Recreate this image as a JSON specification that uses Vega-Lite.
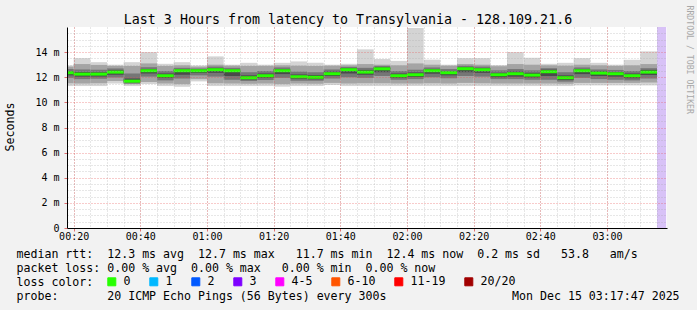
{
  "$schema": "https://vega.github.io/schema/vega-lite/v6.json",
  "width": 600,
  "height": 201,
  "autosize": {"type": "none"},
  "padding": {"left": 67, "top": 27, "right": 30, "bottom": 82},
  "background": "#f2f2f2",
  "view": {"fill": "white", "stroke": null},
  "title": {
    "text": "Last 3 Hours from latency to Transylvania - 128.109.21.6",
    "font": "DejaVu Sans Mono",
    "fontSize": 13.3,
    "fontWeight": "normal",
    "color": "#000000",
    "anchor": "middle",
    "frame": "group",
    "dx": -19,
    "offset": -32,
    "baseline": "alphabetic"
  },
  "datasets": {
    "steps": [
      {"t": "2025-12-15T00:15:00", "t2": "2025-12-15T00:20:00", "med": 12.36, "mx": 12.94, "mn": 11.30, "l2": 11.52, "u2": 12.85, "l1": 11.95, "u1": 12.66, "l0": 12.15, "u0": 12.50, "loss": "0"},
      {"t": "2025-12-15T00:20:00", "t2": "2025-12-15T00:25:00", "med": 12.25, "mx": 13.52, "mn": 11.30, "l2": 11.50, "u2": 13.05, "l1": 11.85, "u1": 12.62, "l0": 12.05, "u0": 12.42, "loss": "0"},
      {"t": "2025-12-15T00:25:00", "t2": "2025-12-15T00:30:00", "med": 12.25, "mx": 13.20, "mn": 11.30, "l2": 11.52, "u2": 12.98, "l1": 11.88, "u1": 12.60, "l0": 12.06, "u0": 12.40, "loss": "0"},
      {"t": "2025-12-15T00:30:00", "t2": "2025-12-15T00:35:00", "med": 12.41, "mx": 13.00, "mn": 11.50, "l2": 11.70, "u2": 12.90, "l1": 11.98, "u1": 12.70, "l0": 12.20, "u0": 12.55, "loss": "0"},
      {"t": "2025-12-15T00:35:00", "t2": "2025-12-15T00:40:00", "med": 11.69, "mx": 13.20, "mn": 11.30, "l2": 11.45, "u2": 12.90, "l1": 11.50, "u1": 12.30, "l0": 11.60, "u0": 11.90, "loss": "0"},
      {"t": "2025-12-15T00:40:00", "t2": "2025-12-15T00:45:00", "med": 12.52, "mx": 14.00, "mn": 11.46, "l2": 11.62, "u2": 13.10, "l1": 12.05, "u1": 12.80, "l0": 12.30, "u0": 12.65, "loss": "0"},
      {"t": "2025-12-15T00:45:00", "t2": "2025-12-15T00:50:00", "med": 12.12, "mx": 13.07, "mn": 11.30, "l2": 11.50, "u2": 12.90, "l1": 11.75, "u1": 12.50, "l0": 11.95, "u0": 12.30, "loss": "0"},
      {"t": "2025-12-15T00:50:00", "t2": "2025-12-15T00:55:00", "med": 12.52, "mx": 13.20, "mn": 11.24, "l2": 11.45, "u2": 12.95, "l1": 11.90, "u1": 12.75, "l0": 12.20, "u0": 12.62, "loss": "0"},
      {"t": "2025-12-15T00:55:00", "t2": "2025-12-15T01:00:00", "med": 12.52, "mx": 12.94, "mn": 11.67, "l2": 11.85, "u2": 12.85, "l1": 12.15, "u1": 12.70, "l0": 12.35, "u0": 12.62, "loss": "0"},
      {"t": "2025-12-15T01:00:00", "t2": "2025-12-15T01:05:00", "med": 12.60, "mx": 13.66, "mn": 11.30, "l2": 11.52, "u2": 13.00, "l1": 12.05, "u1": 12.85, "l0": 12.35, "u0": 12.72, "loss": "0"},
      {"t": "2025-12-15T01:05:00", "t2": "2025-12-15T01:10:00", "med": 12.52, "mx": 13.00, "mn": 11.30, "l2": 11.50, "u2": 12.92, "l1": 11.80, "u1": 12.75, "l0": 12.10, "u0": 12.62, "loss": "0"},
      {"t": "2025-12-15T01:10:00", "t2": "2025-12-15T01:15:00", "med": 11.96, "mx": 13.15, "mn": 11.30, "l2": 11.48, "u2": 12.90, "l1": 11.70, "u1": 12.40, "l0": 11.82, "u0": 12.15, "loss": "0"},
      {"t": "2025-12-15T01:15:00", "t2": "2025-12-15T01:20:00", "med": 12.12, "mx": 13.00, "mn": 11.30, "l2": 11.50, "u2": 12.90, "l1": 11.78, "u1": 12.50, "l0": 11.95, "u0": 12.30, "loss": "0"},
      {"t": "2025-12-15T01:20:00", "t2": "2025-12-15T01:25:00", "med": 12.52, "mx": 13.15, "mn": 11.25, "l2": 11.45, "u2": 12.95, "l1": 11.95, "u1": 12.78, "l0": 12.25, "u0": 12.65, "loss": "0"},
      {"t": "2025-12-15T01:25:00", "t2": "2025-12-15T01:30:00", "med": 12.04, "mx": 13.26, "mn": 11.30, "l2": 11.50, "u2": 12.92, "l1": 11.72, "u1": 12.45, "l0": 11.88, "u0": 12.22, "loss": "0"},
      {"t": "2025-12-15T01:30:00", "t2": "2025-12-15T01:35:00", "med": 12.00, "mx": 13.15, "mn": 11.30, "l2": 11.48, "u2": 12.90, "l1": 11.72, "u1": 12.40, "l0": 11.85, "u0": 12.18, "loss": "0"},
      {"t": "2025-12-15T01:35:00", "t2": "2025-12-15T01:40:00", "med": 12.28, "mx": 13.00, "mn": 11.38, "l2": 11.55, "u2": 12.92, "l1": 11.90, "u1": 12.62, "l0": 12.10, "u0": 12.45, "loss": "0"},
      {"t": "2025-12-15T01:40:00", "t2": "2025-12-15T01:45:00", "med": 12.60, "mx": 13.07, "mn": 11.30, "l2": 11.50, "u2": 12.95, "l1": 12.00, "u1": 12.82, "l0": 12.30, "u0": 12.72, "loss": "0"},
      {"t": "2025-12-15T01:45:00", "t2": "2025-12-15T01:50:00", "med": 12.41, "mx": 14.22, "mn": 11.30, "l2": 11.52, "u2": 13.05, "l1": 11.95, "u1": 12.75, "l0": 12.20, "u0": 12.58, "loss": "0"},
      {"t": "2025-12-15T01:50:00", "t2": "2025-12-15T01:55:00", "med": 12.67, "mx": 13.45, "mn": 11.30, "l2": 11.52, "u2": 13.00, "l1": 12.10, "u1": 12.90, "l0": 12.40, "u0": 12.80, "loss": "0"},
      {"t": "2025-12-15T01:55:00", "t2": "2025-12-15T02:00:00", "med": 12.12, "mx": 13.30, "mn": 11.30, "l2": 11.50, "u2": 12.95, "l1": 11.80, "u1": 12.50, "l0": 11.95, "u0": 12.30, "loss": "0"},
      {"t": "2025-12-15T02:00:00", "t2": "2025-12-15T02:05:00", "med": 12.20, "mx": 15.93, "mn": 11.30, "l2": 11.50, "u2": 13.10, "l1": 11.85, "u1": 12.60, "l0": 12.02, "u0": 12.38, "loss": "0"},
      {"t": "2025-12-15T02:05:00", "t2": "2025-12-15T02:10:00", "med": 12.52, "mx": 13.40, "mn": 11.30, "l2": 11.52, "u2": 13.00, "l1": 12.00, "u1": 12.78, "l0": 12.28, "u0": 12.65, "loss": "0"},
      {"t": "2025-12-15T02:10:00", "t2": "2025-12-15T02:15:00", "med": 12.36, "mx": 13.00, "mn": 11.30, "l2": 11.50, "u2": 12.92, "l1": 11.92, "u1": 12.65, "l0": 12.15, "u0": 12.50, "loss": "0"},
      {"t": "2025-12-15T02:15:00", "t2": "2025-12-15T02:20:00", "med": 12.68, "mx": 13.52, "mn": 11.30, "l2": 11.55, "u2": 13.05, "l1": 12.10, "u1": 12.92, "l0": 12.40, "u0": 12.80, "loss": "0"},
      {"t": "2025-12-15T02:20:00", "t2": "2025-12-15T02:25:00", "med": 12.60, "mx": 13.52, "mn": 11.30, "l2": 11.52, "u2": 13.00, "l1": 12.05, "u1": 12.85, "l0": 12.35, "u0": 12.72, "loss": "0"},
      {"t": "2025-12-15T02:25:00", "t2": "2025-12-15T02:30:00", "med": 12.20, "mx": 12.97, "mn": 11.30, "l2": 11.50, "u2": 12.88, "l1": 11.85, "u1": 12.55, "l0": 12.00, "u0": 12.35, "loss": "0"},
      {"t": "2025-12-15T02:30:00", "t2": "2025-12-15T02:35:00", "med": 12.28, "mx": 14.00, "mn": 11.30, "l2": 11.50, "u2": 13.05, "l1": 11.85, "u1": 12.65, "l0": 12.05, "u0": 12.45, "loss": "0"},
      {"t": "2025-12-15T02:35:00", "t2": "2025-12-15T02:40:00", "med": 12.17, "mx": 13.55, "mn": 11.30, "l2": 11.50, "u2": 13.00, "l1": 11.80, "u1": 12.55, "l0": 11.98, "u0": 12.35, "loss": "0"},
      {"t": "2025-12-15T02:40:00", "t2": "2025-12-15T02:45:00", "med": 12.44, "mx": 13.07, "mn": 11.30, "l2": 11.50, "u2": 12.95, "l1": 11.80, "u1": 12.72, "l0": 12.10, "u0": 12.60, "loss": "0"},
      {"t": "2025-12-15T02:45:00", "t2": "2025-12-15T02:50:00", "med": 11.96, "mx": 13.15, "mn": 11.30, "l2": 11.48, "u2": 12.92, "l1": 11.65, "u1": 12.40, "l0": 11.78, "u0": 12.15, "loss": "0"},
      {"t": "2025-12-15T02:50:00", "t2": "2025-12-15T02:55:00", "med": 12.52, "mx": 13.52, "mn": 11.35, "l2": 11.55, "u2": 13.00, "l1": 11.95, "u1": 12.78, "l0": 12.25, "u0": 12.65, "loss": "0"},
      {"t": "2025-12-15T02:55:00", "t2": "2025-12-15T03:00:00", "med": 12.33, "mx": 13.15, "mn": 11.35, "l2": 11.55, "u2": 12.95, "l1": 11.85, "u1": 12.62, "l0": 12.10, "u0": 12.48, "loss": "0"},
      {"t": "2025-12-15T03:00:00", "t2": "2025-12-15T03:05:00", "med": 12.28, "mx": 13.00, "mn": 11.35, "l2": 11.55, "u2": 12.90, "l1": 11.80, "u1": 12.58, "l0": 12.05, "u0": 12.42, "loss": "0"},
      {"t": "2025-12-15T03:05:00", "t2": "2025-12-15T03:10:00", "med": 12.12, "mx": 13.39, "mn": 11.35, "l2": 11.55, "u2": 12.95, "l1": 11.75, "u1": 12.50, "l0": 11.92, "u0": 12.30, "loss": "0"},
      {"t": "2025-12-15T03:10:00", "t2": "2025-12-15T03:15:00", "med": 12.41, "mx": 14.06, "mn": 11.35, "l2": 11.58, "u2": 13.05, "l1": 11.90, "u1": 12.72, "l0": 12.18, "u0": 12.58, "loss": "0"}
    ],
    "unknown": [
      {"t": "2025-12-15T03:15:00", "t2": "2025-12-15T03:17:45", "lo": 0, "hi": 16}
    ]
  },
  "layer": [
    {
      "data": {"name": "unknown"},
      "mark": {"type": "rect", "color": "#d8c2f7", "clip": true},
      "encoding": {
        "x": {"field": "t", "type": "temporal", "scale": {"domain": [{"year": 2025, "month": 12, "date": 15, "hours": 0, "minutes": 18}, {"year": 2025, "month": 12, "date": 15, "hours": 3, "minutes": 18}]},
          "axis": {"orient": "bottom", "labels": false, "ticks": false, "domain": false, "title": null, "grid": true, "gridColor": "#a8a8a8", "gridOpacity": 0.55, "gridDash": [1, 2], "zindex": 1,
            "values": [
              {"year": 2025, "month": 12, "date": 15, "hours": 0, "minutes": 20}, {"year": 2025, "month": 12, "date": 15, "hours": 0, "minutes": 25},
              {"year": 2025, "month": 12, "date": 15, "hours": 0, "minutes": 30}, {"year": 2025, "month": 12, "date": 15, "hours": 0, "minutes": 35},
              {"year": 2025, "month": 12, "date": 15, "hours": 0, "minutes": 40}, {"year": 2025, "month": 12, "date": 15, "hours": 0, "minutes": 45},
              {"year": 2025, "month": 12, "date": 15, "hours": 0, "minutes": 50}, {"year": 2025, "month": 12, "date": 15, "hours": 0, "minutes": 55},
              {"year": 2025, "month": 12, "date": 15, "hours": 1, "minutes": 0}, {"year": 2025, "month": 12, "date": 15, "hours": 1, "minutes": 5},
              {"year": 2025, "month": 12, "date": 15, "hours": 1, "minutes": 10}, {"year": 2025, "month": 12, "date": 15, "hours": 1, "minutes": 15},
              {"year": 2025, "month": 12, "date": 15, "hours": 1, "minutes": 20}, {"year": 2025, "month": 12, "date": 15, "hours": 1, "minutes": 25},
              {"year": 2025, "month": 12, "date": 15, "hours": 1, "minutes": 30}, {"year": 2025, "month": 12, "date": 15, "hours": 1, "minutes": 35},
              {"year": 2025, "month": 12, "date": 15, "hours": 1, "minutes": 40}, {"year": 2025, "month": 12, "date": 15, "hours": 1, "minutes": 45},
              {"year": 2025, "month": 12, "date": 15, "hours": 1, "minutes": 50}, {"year": 2025, "month": 12, "date": 15, "hours": 1, "minutes": 55},
              {"year": 2025, "month": 12, "date": 15, "hours": 2, "minutes": 0}, {"year": 2025, "month": 12, "date": 15, "hours": 2, "minutes": 5},
              {"year": 2025, "month": 12, "date": 15, "hours": 2, "minutes": 10}, {"year": 2025, "month": 12, "date": 15, "hours": 2, "minutes": 15},
              {"year": 2025, "month": 12, "date": 15, "hours": 2, "minutes": 20}, {"year": 2025, "month": 12, "date": 15, "hours": 2, "minutes": 25},
              {"year": 2025, "month": 12, "date": 15, "hours": 2, "minutes": 30}, {"year": 2025, "month": 12, "date": 15, "hours": 2, "minutes": 35},
              {"year": 2025, "month": 12, "date": 15, "hours": 2, "minutes": 40}, {"year": 2025, "month": 12, "date": 15, "hours": 2, "minutes": 45},
              {"year": 2025, "month": 12, "date": 15, "hours": 2, "minutes": 50}, {"year": 2025, "month": 12, "date": 15, "hours": 2, "minutes": 55},
              {"year": 2025, "month": 12, "date": 15, "hours": 3, "minutes": 0}, {"year": 2025, "month": 12, "date": 15, "hours": 3, "minutes": 5},
              {"year": 2025, "month": 12, "date": 15, "hours": 3, "minutes": 10}, {"year": 2025, "month": 12, "date": 15, "hours": 3, "minutes": 15}
            ]}},
        "x2": {"field": "t2"},
        "y": {"field": "lo", "type": "quantitative", "scale": {"domain": [0, 16], "nice": false},
          "axis": {"orient": "left", "labels": false, "ticks": false, "domain": false, "title": null, "grid": true, "gridColor": "#a8a8a8", "gridOpacity": 0.55, "gridDash": [1, 2], "values": [0.5, 1, 1.5, 2.5, 3, 3.5, 4.5, 5, 5.5, 6.5, 7, 7.5, 8.5, 9, 9.5, 10.5, 11, 11.5, 12.5, 13, 13.5, 14.5, 15, 15.5], "zindex": 1}},
        "y2": {"field": "hi"}
      }
    },
    {
      "data": {"name": "steps"},
      "mark": {"type": "rect", "color": "#d4d4d4", "clip": true},
      "encoding": {
        "x": {"field": "t", "type": "temporal", "axis": null},
        "x2": {"field": "t2"},
        "y": {"field": "mn", "type": "quantitative",
          "axis": {"orient": "right", "title": "RRDTOOL / TOBI OETIKER", "labels": false, "ticks": false, "domain": false, "grid": false, "titleAngle": 90, "titleX": 21, "titleY": -22, "titleAlign": "left", "titleBaseline": "middle", "titleFont": "DejaVu Sans Mono", "titleFontSize": 8.2, "titleFontWeight": "normal", "titleColor": "#a8a8a8"}},
        "y2": {"field": "mx"}
      }
    },
    {
      "data": {"name": "steps"},
      "mark": {"type": "rect", "color": "#a4a4a4", "clip": true},
      "encoding": {
        "x": {"field": "t", "type": "temporal", "axis": null},
        "x2": {"field": "t2"},
        "y": {"field": "l2", "type": "quantitative", "axis": null},
        "y2": {"field": "u2"}
      }
    },
    {
      "data": {"name": "steps"},
      "mark": {"type": "rect", "color": "#767676", "clip": true},
      "encoding": {
        "x": {"field": "t", "type": "temporal", "axis": null},
        "x2": {"field": "t2"},
        "y": {"field": "l1", "type": "quantitative", "axis": null},
        "y2": {"field": "u1"}
      }
    },
    {
      "data": {"name": "steps"},
      "mark": {"type": "rect", "color": "#4a4a4a", "clip": true},
      "encoding": {
        "x": {"field": "t", "type": "temporal", "axis": null},
        "x2": {"field": "t2"},
        "y": {"field": "l0", "type": "quantitative", "axis": null},
        "y2": {"field": "u0"}
      }
    },
    {
      "data": {"name": "steps"},
      "mark": {"type": "rule", "strokeWidth": 3, "clip": true},
      "encoding": {
        "x": {"field": "t", "type": "temporal",
          "axis": {"orient": "bottom", "format": "%H:%M", "grid": true, "gridColor": "#e65050", "gridOpacity": 0.6, "gridDash": [1, 2], "domain": true, "domainColor": "#000000", "domainWidth": 1, "ticks": true, "tickColor": "#e07070", "tickSize": 3, "labelFont": "DejaVu Sans Mono", "labelFontSize": 10, "labelColor": "#000000", "labelPadding": 0, "labelFlush": false, "labelOverlap": false, "zindex": 1,
            "values": [
              {"year": 2025, "month": 12, "date": 15, "hours": 0, "minutes": 20}, {"year": 2025, "month": 12, "date": 15, "hours": 0, "minutes": 40},
              {"year": 2025, "month": 12, "date": 15, "hours": 1, "minutes": 0}, {"year": 2025, "month": 12, "date": 15, "hours": 1, "minutes": 20},
              {"year": 2025, "month": 12, "date": 15, "hours": 1, "minutes": 40}, {"year": 2025, "month": 12, "date": 15, "hours": 2, "minutes": 0},
              {"year": 2025, "month": 12, "date": 15, "hours": 2, "minutes": 20}, {"year": 2025, "month": 12, "date": 15, "hours": 2, "minutes": 40},
              {"year": 2025, "month": 12, "date": 15, "hours": 3, "minutes": 0}
            ],
            "title": [
              "median rtt:\u00a0\u00a012.3 ms avg\u00a0\u00a012.7 ms max\u00a0\u00a0\u00a011.7 ms min\u00a0\u00a012.4 ms now\u00a0\u00a00.2 ms sd\u00a0\u00a0\u00a053.8\u00a0\u00a0\u00a0am/s",
              "packet loss: 0.00 % avg\u00a0\u00a00.00 % max\u00a0\u00a0\u00a00.00 % min\u00a0\u00a00.00 % now",
              "loss color:",
              "probe:\u00a0\u00a0\u00a0\u00a0\u00a0\u00a0\u00a020 ICMP Echo Pings (56 Bytes) every 300s\u00a0\u00a0\u00a0\u00a0\u00a0\u00a0\u00a0\u00a0\u00a0\u00a0\u00a0\u00a0\u00a0\u00a0\u00a0\u00a0\u00a0\u00a0Mon Dec 15 03:17:47 2025"
            ],
            "titleFont": "DejaVu Sans Mono", "titleFontSize": 11.6, "titleFontWeight": "normal", "titleColor": "#000000", "titleAlign": "left", "titleAnchor": "start", "titleBaseline": "alphabetic", "titleX": -51, "titleY": 29.5, "titleLineHeight": 13.9}},
        "x2": {"field": "t2"},
        "y": {"field": "med", "type": "quantitative",
          "axis": {"orient": "left", "values": [0, 2, 4, 6, 8, 10, 12, 14], "labelExpr": "datum.value == 0 ? '0' : datum.value + ' m'", "grid": true, "gridColor": "#e65050", "gridOpacity": 0.6, "gridDash": [1, 2], "domain": true, "domainColor": "#000000", "domainWidth": 1, "ticks": true, "tickColor": "#e07070", "tickSize": 3, "labelFont": "DejaVu Sans Mono", "labelFontSize": 10, "labelColor": "#000000", "labelPadding": 5, "labelFlush": false, "labelOverlap": false, "zindex": 1,
            "title": "Seconds", "titleFont": "DejaVu Sans Mono", "titleFontSize": 11.6, "titleFontWeight": "normal", "titleColor": "#000000", "titleX": -57, "titleY": 99.5, "titleAlign": "center", "titleBaseline": "middle"}},
        "color": {"field": "loss", "type": "nominal",
          "scale": {"domain": ["0", "1", "2", "3", "4-5", "6-10", "11-19", "20/20"], "range": ["#26ff00", "#00b8ff", "#0059ff", "#7e00ff", "#ff00ff", "#ff5500", "#ff0000", "#a10000"]},
          "legend": {"orient": "none", "legendX": 39, "legendY": 249, "direction": "horizontal", "columns": 8, "gridAlign": "none", "title": null, "padding": 0, "labelFont": "DejaVu Sans Mono", "labelFontSize": 11.6, "labelColor": "#000000", "labelOffset": 6, "columnPadding": 16, "symbolType": "square", "symbolSize": 64, "symbolStrokeWidth": 1, "symbolStrokeColor": "#000000",
            "encode": {"symbols": {"update": {"fill": {"scale": "color", "field": "value"}, "stroke": {"value": "#000000"}}}}}}
      }
    }
  ],
  "resolve": {"axis": {"x": "independent", "y": "independent"}}
}
